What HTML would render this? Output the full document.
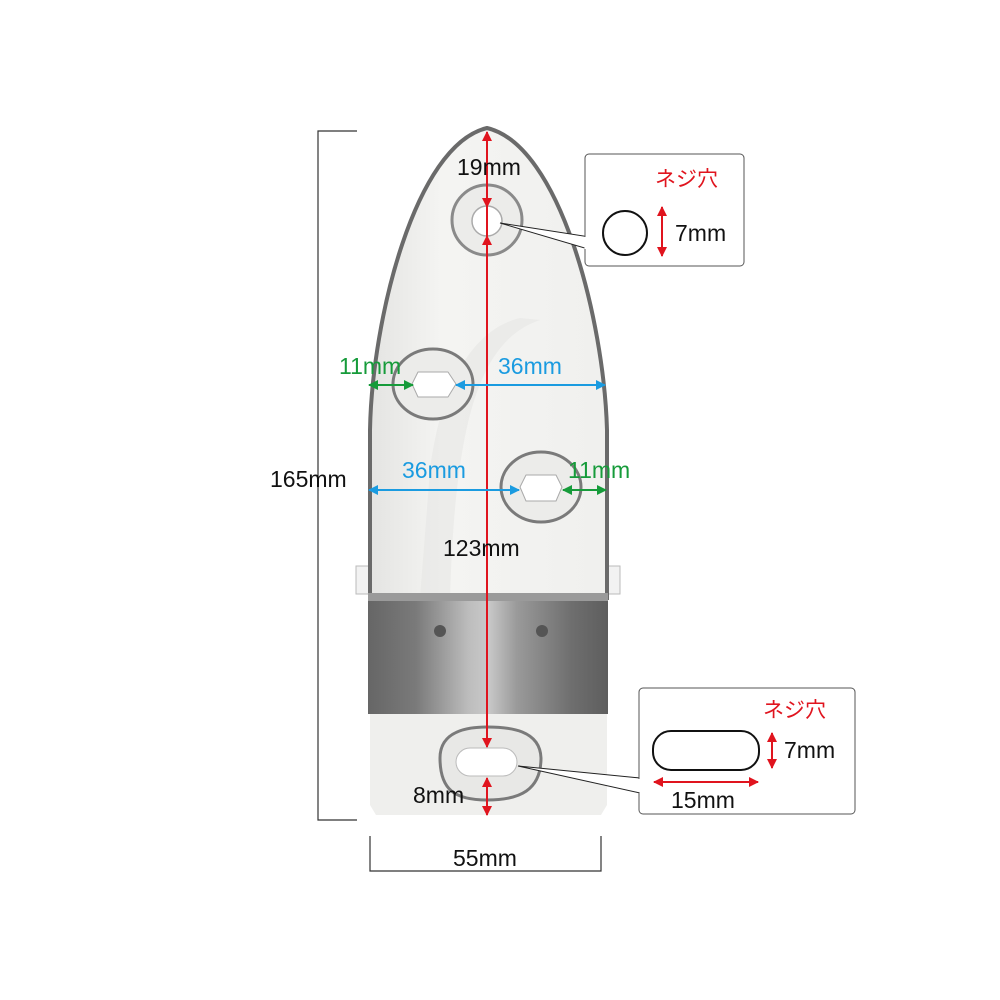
<!DOCTYPE html>
<html><head><meta charset="utf-8"><style>
html,body{margin:0;padding:0;background:#fff}
svg{display:block}
text{font-family:"Liberation Sans","Noto Sans CJK JP",sans-serif}
</style></head><body>
<svg width="1000" height="1000" viewBox="0 0 1000 1000" xmlns="http://www.w3.org/2000/svg">
<defs>
<linearGradient id="band" x1="0" x2="1" y1="0" y2="0">
<stop offset="0" stop-color="#666"/><stop offset="0.2" stop-color="#7a7a7a"/><stop offset="0.42" stop-color="#bdbdbd"/><stop offset="0.5" stop-color="#c9c9c9"/><stop offset="0.62" stop-color="#9a9a9a"/><stop offset="0.85" stop-color="#6e6e6e"/><stop offset="1" stop-color="#5e5e5e"/>
</linearGradient>
<linearGradient id="plate" x1="0" x2="1"><stop offset="0" stop-color="#e4e4e2"/><stop offset="0.3" stop-color="#f4f4f2"/><stop offset="1" stop-color="#f0f0ee"/></linearGradient>
<marker id="ar" viewBox="0 0 10 10" refX="9" refY="5" markerWidth="5" markerHeight="5" orient="auto-start-reverse"><path d="M0,0L10,5L0,10z" fill="#e0141e"/></marker>
<marker id="ab" viewBox="0 0 10 10" refX="9" refY="5" markerWidth="5" markerHeight="5" orient="auto-start-reverse"><path d="M0,0L10,5L0,10z" fill="#1a9be0"/></marker>
<marker id="ag" viewBox="0 0 10 10" refX="9" refY="5" markerWidth="5" markerHeight="5" orient="auto-start-reverse"><path d="M0,0L10,5L0,10z" fill="#169b3a"/></marker>
</defs>
<rect x="356" y="566" width="16" height="28" fill="#f2f2f2" stroke="#bbb"/>
<rect x="604" y="566" width="16" height="28" fill="#f2f2f2" stroke="#bbb"/>
<path d="M370,598 L370,430 C372,320 415,145 487,128 C560,145 604,320 607,430 L607,598 Z" fill="url(#plate)" stroke="#6a6a6a" stroke-width="4"/>
<path d="M430,470 C440,390 470,330 520,318 L540,320 C480,340 455,420 450,598 L420,598 Z" fill="#e6e6e4" opacity="0.6"/>
<rect x="368" y="596" width="240" height="118" fill="url(#band)"/>
<rect x="368" y="593" width="240" height="8" fill="#9a9a9a"/>
<circle cx="440" cy="631" r="6" fill="#555"/><circle cx="542" cy="631" r="6" fill="#555"/>
<path d="M370,714 L607,714 L607,805 L601,815 L376,815 L370,805 Z" fill="#efefed"/>
<circle cx="487" cy="220" r="35" fill="#ececea" stroke="#8a8a8a" stroke-width="3"/>
<circle cx="487" cy="221" r="15" fill="#fff" stroke="#aaa" stroke-width="1.5"/>
<ellipse cx="433" cy="384" rx="40" ry="35" fill="#ececea" stroke="#7a7a7a" stroke-width="3"/>
<path d="M418,372 L448,372 L456,384 L448,397 L418,397 L412,384 Z" fill="#fff" stroke="#aaa" stroke-linejoin="round"/>
<ellipse cx="541" cy="487" rx="40" ry="35" fill="#ececea" stroke="#7a7a7a" stroke-width="3"/>
<path d="M526,475 L556,475 L562,487 L556,501 L526,501 L520,487 Z" fill="#fff" stroke="#aaa" stroke-linejoin="round"/>
<path d="M440,758 C440,730 470,727 487,727 C510,727 540,730 541,758 C541,790 520,800 487,800 C455,800 440,790 440,758 Z" fill="#e8e8e6" stroke="#7a7a7a" stroke-width="3"/>
<rect x="456" y="748" width="61" height="28" rx="14" fill="#fff" stroke="#bbb"/>
<line x1="487" y1="134" x2="487" y2="745" stroke="#e0141e" stroke-width="2"/>
<line x1="487" y1="135" x2="487" y2="132" stroke="#e0141e" stroke-width="2" marker-end="url(#ar)"/>
<line x1="487" y1="180" x2="487" y2="207" stroke="#e0141e" stroke-width="2" marker-end="url(#ar)"/>
<line x1="487" y1="260" x2="487" y2="236" stroke="#e0141e" stroke-width="2" marker-end="url(#ar)"/>
<line x1="487" y1="720" x2="487" y2="747" stroke="#e0141e" stroke-width="2" marker-end="url(#ar)"/>
<line x1="487" y1="778" x2="487" y2="815" stroke="#e0141e" stroke-width="2" marker-start="url(#ar)" marker-end="url(#ar)"/>
<line x1="456" y1="385" x2="605" y2="385" stroke="#1a9be0" stroke-width="2" marker-start="url(#ab)" marker-end="url(#ab)"/>
<line x1="369" y1="385" x2="413" y2="385" stroke="#169b3a" stroke-width="2" marker-start="url(#ag)" marker-end="url(#ag)"/>
<line x1="369" y1="490" x2="519" y2="490" stroke="#1a9be0" stroke-width="2" marker-start="url(#ab)" marker-end="url(#ab)"/>
<line x1="563" y1="490" x2="606" y2="490" stroke="#169b3a" stroke-width="2" marker-start="url(#ag)" marker-end="url(#ag)"/>
<text x="457" y="175" font-size="23" fill="#111">19mm</text>
<text x="339" y="374" font-size="23" fill="#169b3a">11mm</text>
<text x="498" y="374" font-size="23" fill="#1a9be0">36mm</text>
<text x="402" y="478" font-size="23" fill="#1a9be0">36mm</text>
<text x="568" y="478" font-size="23" fill="#169b3a">11mm</text>
<text x="443" y="556" font-size="23" fill="#111">123mm</text>
<text x="413" y="803" font-size="23" fill="#111">8mm</text>
<path d="M357,131 L318,131 L318,820 L357,820" fill="none" stroke="#333" stroke-width="1.2"/>
<text x="270" y="487" font-size="23" fill="#111">165mm</text>
<path d="M370,836 L370,871 L601,871 L601,836" fill="none" stroke="#333" stroke-width="1.2"/>
<text x="453" y="866" font-size="23" fill="#111">55mm</text>
<path d="M500,223 L590,237 L588,249 Z" fill="#fff" stroke="#222" stroke-width="1"/>
<rect x="585" y="154" width="159" height="112" rx="4" fill="#fff" stroke="#555" stroke-width="1"/>
<line x1="586" y1="237" x2="586" y2="249" stroke="#fff" stroke-width="3"/>
<text x="655" y="186" font-size="21" fill="#e0141e">ネジ穴</text>
<circle cx="625" cy="233" r="22" fill="#fff" stroke="#111" stroke-width="2"/>
<line x1="662" y1="207" x2="662" y2="256" stroke="#e0141e" stroke-width="2" marker-start="url(#ar)" marker-end="url(#ar)"/>
<text x="675" y="241" font-size="23" fill="#111">7mm</text>
<path d="M518,766 L640,778 L640,793 Z" fill="#fff" stroke="#222" stroke-width="1"/>
<rect x="639" y="688" width="216" height="126" rx="4" fill="#fff" stroke="#555" stroke-width="1"/>
<line x1="639" y1="779" x2="639" y2="792" stroke="#fff" stroke-width="3"/>
<text x="763" y="717" font-size="21" fill="#e0141e">ネジ穴</text>
<rect x="653" y="731" width="106" height="39" rx="18" fill="#fff" stroke="#111" stroke-width="2"/>
<line x1="772" y1="733" x2="772" y2="768" stroke="#e0141e" stroke-width="2" marker-start="url(#ar)" marker-end="url(#ar)"/>
<text x="784" y="758" font-size="23" fill="#111">7mm</text>
<line x1="654" y1="782" x2="758" y2="782" stroke="#e0141e" stroke-width="2" marker-start="url(#ar)" marker-end="url(#ar)"/>
<text x="671" y="808" font-size="23" fill="#111">15mm</text>
</svg>
</body></html>
